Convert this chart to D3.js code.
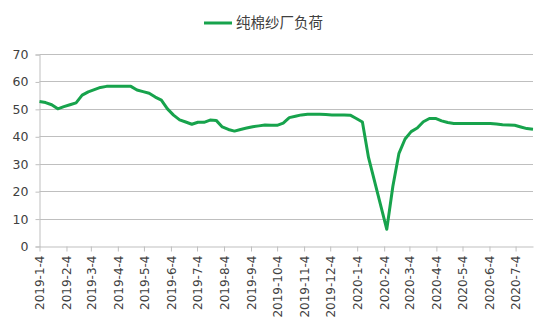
<!DOCTYPE html>
<html>
<head>
<meta charset="utf-8">
<script src="https://cdn.jsdelivr.net/npm/d3@7"></script>
<style>
  body { margin: 0; background: #fff; }
  svg { display: block; }
</style>
</head>
<body>
<div id="chart"></div>
<script>
// data: weekly readings (Fridays), null = no report that week
const seriesName = "纯棉纱厂负荷"
const firstWeek = "2019-01-04"
const lastWeek = "2020-07-24"
const loadValues = [
  52.7, 52.3, 51.5, 50.0, 50.8, 51.5, 52.2, 55.0, 56.2, 57.0,
  57.8, 58.2, 58.2, 58.2, 58.2, 58.2, 56.9, 56.3, 55.7, 54.3,
  53.2, 50.0, 47.7, 46.0, 45.2, 44.4, 45.1, 45.1, 45.9, 45.8,
  43.4, 42.5, 41.9, 42.5, 43.0, 43.5, 43.8, 44.1, 44.0, 44.0,
  44.8, 46.8, 47.3, 47.8, 48.0, 48.0, 48.0, 47.9, 47.8, 47.8,
  47.8, 47.7, 46.5, 45.2, 32.3, null, null, 6.1, 21.8, 33.8,
  39.0, 41.7, 43.0, 45.3, 46.5, 46.5, 45.6, 45.0, 44.7, 44.7,
  44.7, 44.7, 44.7, 44.7, 44.7, 44.5, 44.2, 44.1, 44.0, 43.4,
  42.8, 42.6
]
const tickLabels = [
  "2019-1-4", "2019-2-4", "2019-3-4", "2019-4-4", "2019-5-4", "2019-6-4",
  "2019-7-4", "2019-8-4", "2019-9-4", "2019-10-4", "2019-11-4", "2019-12-4",
  "2020-1-4", "2020-2-4", "2020-3-4", "2020-4-4", "2020-5-4", "2020-6-4", "2020-7-4"
]
const yTicks = [0, 10, 20, 30, 40, 50, 60, 70]

const parse = d3.timeParse("%Y-%m-%d")
const parseTick = d3.timeParse("%Y-%-m-%-d")
const weeks = d3.timeFriday.range(parse(firstWeek), d3.timeDay.offset(parse(lastWeek), 1))
const data = weeks.map((d, i) => ({date: d, value: loadValues[i]}))
  .filter(d => d.value != null)

const width = 550, height = 330
const svg = d3.select("#chart").append("svg")
  .attr("width", width)
  .attr("height", height)

const xScale = d3.scaleTime()
  .domain([parse(firstWeek), parse(lastWeek)])
  .range([39.5, 533])
const yScale = d3.scaleLinear()
  .domain([0, 70])
  .range([246, 54])

const gridColor = "#bfbfbf"
const textColor = "#404040"
const lineColor = "#17a34c"

// gridlines
svg.append("g")
  .selectAll("line")
  .data(yTicks.slice(1))
  .join("line")
  .attr("x1", 39.5)
  .attr("x2", 533)
  .attr("y1", d => Math.round(yScale(d)) + 0.5)
  .attr("y2", d => Math.round(yScale(d)) + 0.5)
  .attr("stroke", gridColor)
  .attr("stroke-width", 1)

// y axis
const yAxis = d3.axisLeft(yScale)
  .tickValues(yTicks)
  .tickSize(4)
  .tickPadding(7)
svg.append("g")
  .attr("class", "axis y-axis")
  .attr("transform", "translate(39.5,0.5)")
  .call(yAxis)
  .call(g => g.selectAll("line, path").attr("stroke", gridColor))
  .call(g => g.selectAll("text")
    .attr("fill", textColor)
    .attr("font-family", "DejaVu Sans")
    .attr("font-size", 12.5))

// x axis
const xAxis = d3.axisBottom(xScale)
  .tickValues(tickLabels.map(parseTick))
  .tickFormat((d, i) => tickLabels[i])
  .tickSize(5)
  .tickSizeOuter(0)
svg.append("g")
  .attr("class", "axis x-axis")
  .attr("transform", "translate(0," + (yScale(0) + 0.5) + ")")
  .call(xAxis)
  .call(g => g.selectAll("line, path").attr("stroke", gridColor))
  .call(g => g.selectAll("text")
    .attr("fill", textColor)
    .attr("font-family", "DejaVu Sans")
    .attr("font-size", 12)
    .attr("text-anchor", "end")
    .attr("transform", "rotate(-90)")
    .attr("x", -9)
    .attr("y", 0)
    .attr("dy", "0.35em"))

// line
const line = d3.line()
  .x(d => xScale(d.date))
  .y(d => yScale(d.value))
svg.append("path")
  .datum(data)
  .attr("fill", "none")
  .attr("stroke", lineColor)
  .attr("stroke-width", 3)
  .attr("stroke-linejoin", "round")
  .attr("d", line)

// legend
const legend = svg.append("g").attr("transform", "translate(204,23)")
legend.append("line")
  .attr("x1", 0).attr("x2", 28)
  .attr("stroke", lineColor)
  .attr("stroke-width", 3)
legend.append("text")
  .attr("x", 32)
  .attr("dy", "0.35em")
  .attr("fill", textColor)
  .attr("font-family", "Noto Sans CJK SC")
  .attr("font-size", 14.5)
  .text(seriesName)
</script>
</body>
</html>
